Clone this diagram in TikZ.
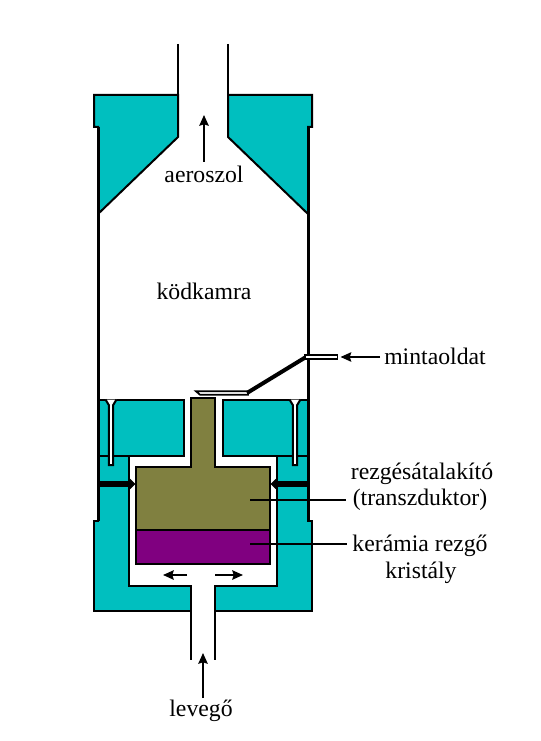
\documentclass[tikz,border=0pt]{standalone}
\usepackage{fontspec}
\setmainfont{Liberation Serif}
\usepackage{tikz}
\usetikzlibrary{arrows.meta}
\definecolor{bodyteal}{HTML}{00BFBF}
\definecolor{bodyolive}{HTML}{808040}
\definecolor{bodypurple}{HTML}{800080}

\begin{document}
\begin{tikzpicture}[
  x=0.75pt, y=-0.75pt,
  wall/.style={draw=black, line width=2.25pt},
  pipe/.style={draw=black, line width=1.5pt},
  solid/.style={draw=black, line width=1.5pt, fill=bodyteal},
  capil/.style={draw=black, line width=1.5pt, fill=white},
  label/.style={font=\fontsize{17.8}{20}\selectfont, inner sep=0pt, align=center},
  arr/.style={-{Stealth[length=8pt, width=7pt, inset=1pt]}, line width=1.5pt, black},
  fatarr/.style={-{Stealth[length=4pt, width=7.5pt, inset=0pt]}, line width=4.4pt, black},
  lead/.style={line width=1.5pt, black}
]
  \useasboundingbox (0,0) rectangle (540,741);

  % upper teal parts
  \filldraw[solid] (178,95) -- (94,95) -- (94,127) -- (98,127) -- (98,214) -- (178,137) -- cycle;
  \filldraw[solid] (228,95) -- (312,95) -- (312,127) -- (308,127) -- (308,214) -- (228,137) -- cycle;

  % middle blocks
  \filldraw[solid] (98,400) -- (184,400) -- (184,456) -- (98,456) -- cycle;
  \filldraw[solid] (223,400) -- (308,400) -- (308,456) -- (223,456) -- cycle;

  % lower teal parts
  \filldraw[solid] (98,456) -- (129,456) -- (129,586) -- (191,586) -- (191,611) -- (94,611) -- (94,521) -- (98,521) -- cycle;
  \filldraw[solid] (308,456) -- (277,456) -- (277,586) -- (215,586) -- (215,611) -- (312,611) -- (312,521) -- (308,521) -- cycle;

  % walls and pipes
  \draw[wall] (98,127) -- (98,521);
  \draw[wall] (308,127) -- (308,521);
  \draw[pipe] (178,44) -- (178,137);
  \draw[pipe] (228,44) -- (228,137);
  \draw[pipe] (191,586) -- (191,660);
  \draw[pipe] (215,586) -- (215,660);

  % capillaries
  \foreach \cx in {111, 295} {
    \filldraw[capil] (\cx-5.5,399.5) -- (\cx-2.2,405) -- (\cx-2.2,465) -- (\cx+2.2,465) -- (\cx+2.2,405) -- (\cx+5.5,399.5);
  }

  % transducer and crystal
  \filldraw[draw=black, line width=1.5pt, fill=bodyolive] (191,398) -- (215,398) -- (215,467) -- (270,467) -- (270,530) -- (136,530) -- (136,467) -- (191,467) -- cycle;
  \filldraw[draw=black, line width=1.5pt, fill=bodypurple] (136,530) rectangle (270,564);

  % sample tube
  \filldraw[draw=black, line width=1.3pt, fill=white] (196,391.3) -- (248,391.3) -- (248,394.7) -- (200,394.7) -- cycle;
  \draw[black, line width=3pt] (247,393) -- (306,357);
  \filldraw[draw=black, line width=1.3pt, fill=white] (305,355.3) rectangle (337.5,359);

  % labels
  \node[label] (aeroszol) at (204,174) {aeroszol};
  \node[label] (kodkamra) at (204,291) {ködkamra};
  \node[label] (mintaoldat) at (435,356) {mintaoldat};
  \node[label] (atalakito) at (422,473.5) {rezgésátalakító};
  \node[label] (transzduktor) at (420,500) {(transzduktor)};
  \node[label] (keramia) at (420,545.5) {kerámia rezgő};
  \node[label] (kristaly) at (421,572.5) {kristály};
  \node[label] (levego) at (201,711) {levegő};

  \coordinate (tubein) at (340.5,357);
  \coordinate (tubeout) at (380,357);
  \coordinate (leadone) at (250,500);
  \coordinate (leadoneend) at (346,500);
  \coordinate (leadtwo) at (250,544);
  \coordinate (leadtwoend) at (347,544);
  \coordinate (fatl) at (98,484);
  \coordinate (fatlend) at (135.5,484);
  \coordinate (fatr) at (308,484);
  \coordinate (fatrend) at (270.5,484);
  \coordinate (topbase) at (204,162);
  \coordinate (toptip) at (204,115);
  \coordinate (airbase) at (203,698);
  \coordinate (airtip) at (203,653);
  \coordinate (airl) at (187,575);
  \coordinate (airlend) at (163,575);
  \coordinate (airr) at (215,575);
  \coordinate (airrend) at (243,575);

  \draw[arr] (topbase) -- (toptip);
  \draw[arr] (airbase) -- (airtip);
  \draw[arr] (airl) -- (airlend);
  \draw[arr] (airr) -- (airrend);
  \draw[arr] (tubeout) -- (tubein);
  \draw[fatarr] (fatl) -- (fatlend);
  \draw[fatarr] (fatr) -- (fatrend);
  \draw[lead] (leadone) -- (leadoneend);
  \draw[lead] (leadtwo) -- (leadtwoend);
\end{tikzpicture}
\end{document}
